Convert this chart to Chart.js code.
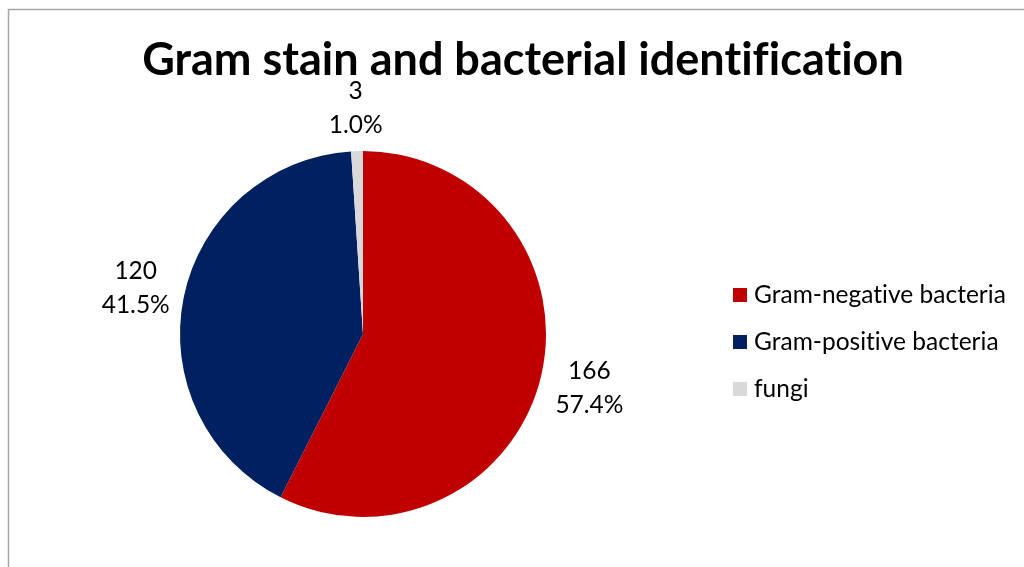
<!DOCTYPE html>
<html>
<head>
<meta charset="utf-8">
<script src="https://cdn.jsdelivr.net/npm/chart.js@4"></script>
<style>
  html, body { margin: 0; padding: 0; background: #fff; }
  #wrap { position: relative; width: 1024px; height: 567px; }
  canvas { display: block; }
</style>
</head>
<body>
<div id="wrap"><canvas id="chart" width="1024" height="567"></canvas></div>
<script>
// Gram stain results by organism group
const categories = ['Gram-negative bacteria', 'Gram-positive bacteria', 'fungi'];
const counts = [166, 120, 3];
const sliceColors = ['#C00000', '#002060', '#D9D9D9'];
const titleText = 'Gram stain and bacterial identification';

const FONT = 'Lato, "Open Sans", sans-serif';

// Frame, title, value labels and legend drawn on the canvas
const decorations = {
  id: 'decorations',
  beforeDraw(chart) {
    const ctx = chart.ctx;
    ctx.save();
    ctx.strokeStyle = '#A6A6A6';
    ctx.lineWidth = 1.5;
    ctx.beginPath();
    ctx.moveTo(8.5, 580);
    ctx.lineTo(8.5, 9.5);
    ctx.lineTo(1030, 9.5);
    ctx.stroke();
    ctx.restore();
  },
  afterDraw(chart) {
    const ctx = chart.ctx;
    const meta = chart.getDatasetMeta(0);
    const total = counts.reduce((a, b) => a + b, 0);
    ctx.save();
    // keep "fi" as two separate letters
    if ('letterSpacing' in ctx) ctx.letterSpacing = '0.01px';

    // title
    ctx.fillStyle = '#000';
    ctx.font = 'bold 45px ' + FONT;
    ctx.textAlign = 'center';
    ctx.textBaseline = 'middle';
    ctx.fillText(titleText, 523, 60);

    // value + percentage outside each slice; the label box sits a fixed gap off the rim
    ctx.font = '24.5px ' + FONT;
    ctx.fillStyle = '#000';
    const gap = 9, halfH = 33;
    meta.data.forEach((arc, i) => {
      const mid = (arc.startAngle + arc.endAngle) / 2;
      const pct = (counts[i] / total * 100).toFixed(1) + '%';
      const w = Math.max(ctx.measureText(String(counts[i])).width, ctx.measureText(pct).width);
      const c = Math.cos(mid), s = Math.sin(mid);
      const r = arc.outerRadius + gap + Math.abs(c) * w / 2 + Math.abs(s) * halfH;
      const x = arc.x + c * r;
      const y = arc.y + s * r;
      ctx.fillText(String(counts[i]), x, y - 17);
      ctx.fillText(pct, x, y + 17);
    });

    // legend
    ctx.textAlign = 'left';
    const lx = 733, ys = [295, 342, 389];
    categories.forEach((name, i) => {
      ctx.fillStyle = sliceColors[i];
      ctx.fillRect(lx, ys[i] - 7, 14, 14);
      ctx.fillStyle = '#000';
      ctx.fillText(name, lx + 21, ys[i]);
    });
    ctx.restore();
  }
};

new Chart(document.getElementById('chart'), {
  type: 'pie',
  data: {
    labels: categories,
    datasets: [{
      data: counts,
      backgroundColor: sliceColors,
      borderWidth: 0
    }]
  },
  options: {
    responsive: false,
    animation: false,
    layout: { padding: { left: 180, right: 478, top: 151, bottom: 50 } },
    plugins: {
      legend: { display: false },
      title: { display: false },
      tooltip: { enabled: false }
    }
  },
  plugins: [decorations]
});
</script>
</body>
</html>
